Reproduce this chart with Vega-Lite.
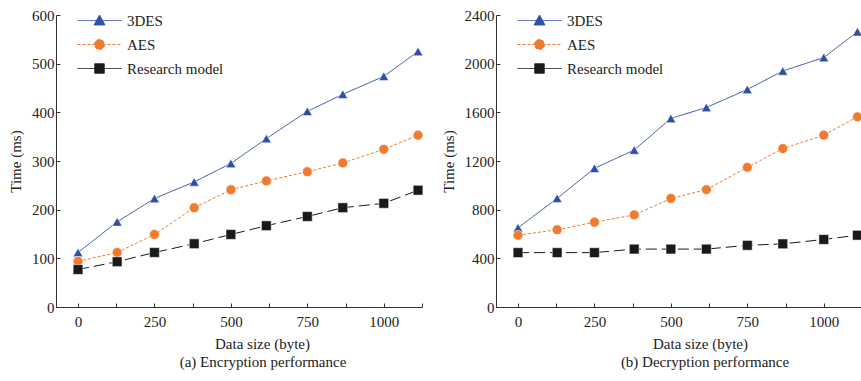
{
  "$schema": "https://vega.github.io/schema/vega-lite/v6.json",
  "background": "white",
  "padding": {"left": 8, "top": 8, "right": 0, "bottom": 5},
  "config": {
    "font": "Liberation Serif",
    "view": {"stroke": null},
    "axis": {"grid": false, "domainColor": "#333333", "tickColor": "#333333", "labelFont": "Liberation Serif", "labelFontSize": 15, "labelColor": "#222222", "titleFont": "Liberation Serif", "titleFontSize": 15, "titleFontWeight": "normal", "titleColor": "#222222", "tickSize": -4, "labelPadding": 6, "titlePadding": 8, "format": "d"},
    "axisX": {"labelPadding": 11, "titlePadding": 7},
    "title": {"font": "Liberation Serif", "fontSize": 15, "fontWeight": "normal", "color": "#222222"},
    "concat": {"spacing": 17}
  },
  "datasets": {
    "enc": [
      {"series": "3DES", "size": 0, "time": 112}, {"series": "3DES", "size": 128, "time": 175}, {"series": "3DES", "size": 250, "time": 223}, {"series": "3DES", "size": 380, "time": 257}, {"series": "3DES", "size": 500, "time": 295}, {"series": "3DES", "size": 616, "time": 346}, {"series": "3DES", "size": 750, "time": 402}, {"series": "3DES", "size": 866, "time": 437}, {"series": "3DES", "size": 1000, "time": 474}, {"series": "3DES", "size": 1112, "time": 525},
      {"series": "AES", "size": 0, "time": 94}, {"series": "AES", "size": 128, "time": 112}, {"series": "AES", "size": 250, "time": 149}, {"series": "AES", "size": 380, "time": 204}, {"series": "AES", "size": 500, "time": 241}, {"series": "AES", "size": 616, "time": 259}, {"series": "AES", "size": 750, "time": 278}, {"series": "AES", "size": 866, "time": 296}, {"series": "AES", "size": 1000, "time": 324}, {"series": "AES", "size": 1112, "time": 353},
      {"series": "Research model", "size": 0, "time": 77}, {"series": "Research model", "size": 128, "time": 93}, {"series": "Research model", "size": 250, "time": 112}, {"series": "Research model", "size": 380, "time": 130}, {"series": "Research model", "size": 500, "time": 149}, {"series": "Research model", "size": 616, "time": 167}, {"series": "Research model", "size": 750, "time": 186}, {"series": "Research model", "size": 866, "time": 204}, {"series": "Research model", "size": 1000, "time": 213}, {"series": "Research model", "size": 1112, "time": 240}
    ],
    "dec": [
      {"series": "3DES", "size": 0, "time": 651}, {"series": "3DES", "size": 128, "time": 893}, {"series": "3DES", "size": 250, "time": 1140}, {"series": "3DES", "size": 380, "time": 1290}, {"series": "3DES", "size": 500, "time": 1550}, {"series": "3DES", "size": 616, "time": 1640}, {"series": "3DES", "size": 750, "time": 1788}, {"series": "3DES", "size": 866, "time": 1940}, {"series": "3DES", "size": 1000, "time": 2050}, {"series": "3DES", "size": 1110, "time": 2262},
      {"series": "AES", "size": 0, "time": 590}, {"series": "AES", "size": 128, "time": 635}, {"series": "AES", "size": 250, "time": 697}, {"series": "AES", "size": 380, "time": 757}, {"series": "AES", "size": 500, "time": 892}, {"series": "AES", "size": 616, "time": 965}, {"series": "AES", "size": 750, "time": 1148}, {"series": "AES", "size": 866, "time": 1302}, {"series": "AES", "size": 1000, "time": 1412}, {"series": "AES", "size": 1110, "time": 1563},
      {"series": "Research model", "size": 0, "time": 447}, {"series": "Research model", "size": 128, "time": 447}, {"series": "Research model", "size": 250, "time": 447}, {"series": "Research model", "size": 380, "time": 476}, {"series": "Research model", "size": 500, "time": 476}, {"series": "Research model", "size": 616, "time": 476}, {"series": "Research model", "size": 750, "time": 507}, {"series": "Research model", "size": 866, "time": 519}, {"series": "Research model", "size": 1000, "time": 555}, {"series": "Research model", "size": 1110, "time": 590}
    ]
  },
  "hconcat": [
    {
      "width": 366, "height": 292,
      "data": {"name": "enc"},
      "title": {"text": "(a) Encryption performance", "orient": "bottom", "dx": 24, "offset": 4},
      "encoding": {
        "x": {"field": "size", "type": "quantitative", "scale": {"domain": [-72, 1125], "nice": false, "zero": false}, "axis": {"values": [0, 125, 250, 375, 500, 625, 750, 875, 1000, 1125], "labelExpr": "datum.value % 250 === 0 ? datum.label : ''", "title": "Data size (byte)", "titleX": 206}},
        "y": {"field": "time", "type": "quantitative", "scale": {"domain": [0, 600], "nice": false}, "axis": {"values": [0, 100, 200, 300, 400, 500, 600], "title": "Time (ms)"}},
        "color": {"field": "series", "type": "nominal", "scale": {"domain": ["3DES", "AES", "Research model"], "range": ["#2f4fa6", "#f07b2f", "#1a1a1a"]},
          "legend": {"orient": "none", "legendX": 36, "legendY": -2, "title": null, "padding": 0, "labelFont": "Liberation Serif", "labelFontSize": 15, "labelColor": "#222222", "labelOffset": 20, "rowPadding": 8, "symbolSize": 100,
            "encode": {"symbols": {"update": {
              "shape": {"signal": "datum.value === '3DES' ? 'M-4.4,0H4.4M0,-1.1L1.1,0.9H-1.1Z' : datum.value === 'AES' ? 'M-4.4,0H4.4M1,0A1,1,0,1,1,-1,0A1,1,0,1,1,1,0Z' : 'M-4.4,0H4.4M-0.95,-0.95H0.95V0.95H-0.95Z'"},
              "fill": {"signal": "datum.value === '3DES' ? '#2f4fa6' : datum.value === 'AES' ? '#f07b2f' : '#1a1a1a'"},
              "stroke": {"signal": "datum.value === '3DES' ? '#2f4fa6' : datum.value === 'AES' ? '#f07b2f' : '#1a1a1a'"},
              "strokeDash": {"signal": "datum.value === 'AES' ? [3, 2] : [1, 0]"},
              "strokeWidth": {"value": 1},
              "opacity": {"value": 1}
            }}}
          }
        }
      },
      "layer": [
        {"mark": {"type": "line", "strokeWidth": 1},
         "encoding": {"strokeDash": {"field": "series", "type": "nominal", "scale": {"domain": ["3DES", "AES", "Research model"], "range": [[1, 0], [3, 2], [11, 5]]}, "legend": null}}},
        {"mark": {"type": "point", "filled": true, "opacity": 1, "size": 95, "stroke": "white", "strokeWidth": 0.5},
         "encoding": {"shape": {"field": "series", "type": "nominal", "scale": {"domain": ["3DES", "AES", "Research model"], "range": ["triangle-up", "circle", "square"]}, "legend": null}}}
      ]
    },
    {
      "width": 366, "height": 292,
      "data": {"name": "dec"},
      "title": {"text": "(b) Decryption performance", "orient": "bottom", "dx": 26, "offset": 4},
      "encoding": {
        "x": {"field": "size", "type": "quantitative", "scale": {"domain": [-72, 1125], "nice": false, "zero": false}, "axis": {"values": [0, 125, 250, 375, 500, 625, 750, 875, 1000, 1125], "labelExpr": "datum.value % 250 === 0 ? datum.label : ''", "title": "Data size (byte)", "titleX": 204}},
        "y": {"field": "time", "type": "quantitative", "scale": {"domain": [0, 2400], "nice": false}, "axis": {"values": [0, 400, 800, 1200, 1600, 2000, 2400], "title": "Time (ms)"}},
        "color": {"field": "series", "type": "nominal", "scale": {"domain": ["3DES", "AES", "Research model"], "range": ["#2f4fa6", "#f07b2f", "#1a1a1a"]},
          "legend": {"orient": "none", "legendX": 36, "legendY": -2, "title": null, "padding": 0, "labelFont": "Liberation Serif", "labelFontSize": 15, "labelColor": "#222222", "labelOffset": 20, "rowPadding": 8, "symbolSize": 100,
            "encode": {"symbols": {"update": {
              "shape": {"signal": "datum.value === '3DES' ? 'M-4.4,0H4.4M0,-1.1L1.1,0.9H-1.1Z' : datum.value === 'AES' ? 'M-4.4,0H4.4M1,0A1,1,0,1,1,-1,0A1,1,0,1,1,1,0Z' : 'M-4.4,0H4.4M-0.95,-0.95H0.95V0.95H-0.95Z'"},
              "fill": {"signal": "datum.value === '3DES' ? '#2f4fa6' : datum.value === 'AES' ? '#f07b2f' : '#1a1a1a'"},
              "stroke": {"signal": "datum.value === '3DES' ? '#2f4fa6' : datum.value === 'AES' ? '#f07b2f' : '#1a1a1a'"},
              "strokeDash": {"signal": "datum.value === 'AES' ? [3, 2] : [1, 0]"},
              "strokeWidth": {"value": 1},
              "opacity": {"value": 1}
            }}}
          }
        }
      },
      "layer": [
        {"mark": {"type": "line", "strokeWidth": 1},
         "encoding": {"strokeDash": {"field": "series", "type": "nominal", "scale": {"domain": ["3DES", "AES", "Research model"], "range": [[1, 0], [3, 2], [11, 5]]}, "legend": null}}},
        {"mark": {"type": "point", "filled": true, "opacity": 1, "size": 95, "stroke": "white", "strokeWidth": 0.5},
         "encoding": {"shape": {"field": "series", "type": "nominal", "scale": {"domain": ["3DES", "AES", "Research model"], "range": ["triangle-up", "circle", "square"]}, "legend": null}}}
      ]
    }
  ],
  "resolve": {"legend": {"color": "independent"}}
}
